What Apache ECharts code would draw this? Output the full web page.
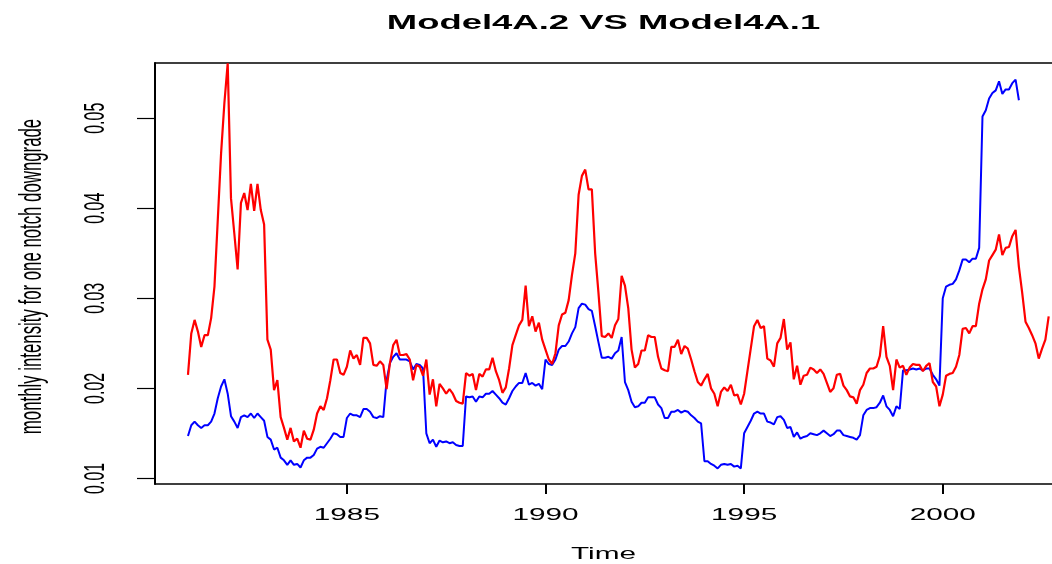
<!DOCTYPE html>
<html>
<head>
<meta charset="utf-8">
<title>Model4A.2 VS Model4A.1</title>
<script src="https://cdn.jsdelivr.net/npm/echarts@6/dist/echarts.min.js"></script>
<style>
  html, body { margin: 0; padding: 0; background: #ffffff; }
  #main { width: 1052px; height: 564px; }
</style>
</head>
<body>
<div id="main"></div>
<script>
// ---- data (monthly series starting January 1981) ----
const startYear = 1981;
const monthsPerYear = 12;

// blue line (Model4A.2), 1981-01 .. 2001-12
const model4A2 = [
  0.0147,0.0159,0.0163,0.0159,0.0156,0.0159,0.0159,0.0163,0.0172,0.0189,0.0202,0.0210,
  0.0194,0.0169,0.0163,0.0156,0.0168,0.0170,0.0168,0.0172,0.0167,0.0172,0.0168,0.0164,
  0.0146,0.0143,0.0132,0.0134,0.0123,0.0120,0.0115,0.0120,0.0115,0.0116,0.0112,0.0120,
  0.0123,0.0123,0.0126,0.0133,0.0135,0.0134,0.0139,0.0144,0.0150,0.0149,0.0146,0.0146,
  0.0167,0.0172,0.0170,0.0170,0.0168,0.0177,0.0177,0.0174,0.0168,0.0167,0.0169,0.0168,
  0.0209,0.0228,0.0235,0.0239,0.0232,0.0232,0.0232,0.0230,0.0221,0.0227,0.0226,0.0222,
  0.0150,0.0139,0.0143,0.0135,0.0142,0.0140,0.0141,0.0139,0.0140,0.0137,0.0136,0.0136,
  0.0191,0.0190,0.0191,0.0185,0.0191,0.0190,0.0194,0.0194,0.0197,0.0193,0.0189,0.0184,
  0.0182,0.0189,0.0197,0.0202,0.0206,0.0206,0.0217,0.0204,0.0206,0.0203,0.0205,0.0199,
  0.0232,0.0227,0.0226,0.0232,0.0243,0.0247,0.0247,0.0252,0.0261,0.0268,0.0289,0.0294,
  0.0293,0.0288,0.0286,0.0269,0.0251,0.0234,0.0234,0.0235,0.0233,0.0239,0.0242,0.0257,
  0.0207,0.0198,0.0185,0.0179,0.0180,0.0184,0.0184,0.0190,0.0190,0.0190,0.0182,0.0178,
  0.0167,0.0167,0.0174,0.0174,0.0176,0.0173,0.0175,0.0174,0.0170,0.0167,0.0163,0.0161,
  0.0119,0.0119,0.0116,0.0114,0.0111,0.0115,0.0116,0.0115,0.0116,0.0113,0.0114,0.0111,
  0.0150,0.0157,0.0164,0.0172,0.0174,0.0172,0.0172,0.0163,0.0162,0.0160,0.0168,0.0169,
  0.0165,0.0156,0.0157,0.0146,0.0151,0.0144,0.0146,0.0147,0.0150,0.0149,0.0148,0.0150,
  0.0153,0.0150,0.0147,0.0149,0.0153,0.0153,0.0148,0.0147,0.0146,0.0145,0.0143,0.0148,
  0.0170,0.0176,0.0178,0.0178,0.0179,0.0184,0.0192,0.0180,0.0176,0.0169,0.0180,0.0177,
  0.0220,0.0220,0.0221,0.0222,0.0221,0.0222,0.0220,0.0222,0.0222,0.0215,0.0210,0.0203,
  0.0300,0.0313,0.0315,0.0316,0.0321,0.0331,0.0343,0.0343,0.0340,0.0344,0.0344,0.0356,
  0.0502,0.0509,0.0522,0.0528,0.0531,0.0541,0.0527,0.0532,0.0532,0.0539,0.0543,0.0520
];

// red line (Model4A.1), 1981-01 .. 2002-09
const model4A1 = [
  0.0215,0.0261,0.0276,0.0263,0.0246,0.0259,0.0259,0.0278,0.0313,0.0387,0.0461,0.0517,
  0.0561,0.0411,0.0372,0.0332,0.0406,0.0417,0.0398,0.0427,0.0397,0.0427,0.0398,0.0382,
  0.0254,0.0243,0.0198,0.0209,0.0168,0.0156,0.0143,0.0156,0.0141,0.0144,0.0134,0.0153,
  0.0144,0.0143,0.0154,0.0172,0.0180,0.0176,0.0189,0.0209,0.0232,0.0232,0.0217,0.0215,
  0.0224,0.0242,0.0233,0.0237,0.0226,0.0256,0.0256,0.0250,0.0226,0.0225,0.0230,0.0226,
  0.0199,0.0228,0.0248,0.0254,0.0237,0.0237,0.0238,0.0232,0.0209,0.0226,0.0224,0.0214,
  0.0232,0.0193,0.0210,0.0180,0.0205,0.0200,0.0194,0.0199,0.0194,0.0186,0.0184,0.0183,
  0.0217,0.0214,0.0216,0.0198,0.0216,0.0213,0.0221,0.0221,0.0234,0.0219,0.0209,0.0195,
  0.0201,0.0222,0.0248,0.0259,0.0270,0.0276,0.0314,0.0269,0.0280,0.0263,0.0273,0.0254,
  0.0243,0.0232,0.0227,0.0239,0.0270,0.0282,0.0284,0.0298,0.0326,0.0350,0.0415,0.0436,
  0.0443,0.0421,0.0421,0.0350,0.0306,0.0258,0.0257,0.0261,0.0256,0.0270,0.0277,0.0325,
  0.0314,0.0289,0.0243,0.0223,0.0227,0.0242,0.0242,0.0259,0.0257,0.0257,0.0235,0.0222,
  0.0220,0.0219,0.0246,0.0246,0.0254,0.0238,0.0247,0.0244,0.0232,0.0219,0.0207,0.0203,
  0.0210,0.0216,0.0200,0.0194,0.0180,0.0196,0.0201,0.0197,0.0204,0.0192,0.0193,0.0182,
  0.0194,0.0219,0.0244,0.0269,0.0276,0.0267,0.0269,0.0233,0.0231,0.0224,0.0250,0.0256,
  0.0277,0.0243,0.0251,0.0210,0.0225,0.0204,0.0214,0.0215,0.0223,0.0221,0.0217,0.0221,
  0.0216,0.0206,0.0196,0.0200,0.0215,0.0216,0.0203,0.0198,0.0191,0.0190,0.0183,0.0198,
  0.0204,0.0217,0.0222,0.0222,0.0224,0.0236,0.0269,0.0235,0.0225,0.0198,0.0232,0.0223,
  0.0225,0.0215,0.0223,0.0227,0.0226,0.0226,0.0219,0.0225,0.0228,0.0207,0.0202,0.0180,
  0.0193,0.0214,0.0216,0.0217,0.0224,0.0237,0.0266,0.0267,0.0261,0.0269,0.0269,0.0294,
  0.0310,0.0321,0.0342,0.0348,0.0354,0.0371,0.0348,0.0356,0.0357,0.0369,0.0376,0.0335,
  0.0306,0.0274,0.0267,0.0259,0.0250,0.0233,0.0244,0.0254,0.0280
];

const xTicks = [1985, 1990, 1995, 2000];
const xTickLabels = ['1985', '1990', '1995', '2000'];
const yTicks = [0.01, 0.02, 0.03, 0.04, 0.05];
const yTickLabels = ['0.01', '0.02', '0.03', '0.04', '0.05'];
const titleText = 'Model4A.2 VS Model4A.1';
const xName = 'Time';
const yName = 'monthly intensity for one notch downgrade';

// axis ranges
const xMin = 1980.17, xMax = 2002.75;
const yMin = 0.00937, yMax = 0.05614;

// ---- build ----
const toSeries = arr => arr.map((v, i) => [startYear + i / monthsPerYear, v]);

const FONT = "'Liberation Sans', Arial, Helvetica, sans-serif";
const SX = 1.86; // horizontal stretch of the reference's text

const chart = echarts.init(document.getElementById('main'), null, { renderer: 'canvas' });

const axisLineStyle = { color: '#000000', width: 1.5 };

chart.setOption({
  animation: false,
  backgroundColor: '#ffffff',
  grid: { left: 155, top: 63, bottom: 80, right: -3, containLabel: false },
  xAxis: [
    {
      type: 'value', min: xMin, max: xMax, position: 'bottom',
      axisLine: { show: true, onZero: false, lineStyle: axisLineStyle },
      axisTick: { show: true, length: 10, inside: false, customValues: xTicks,
                  lineStyle: { color: '#000000', width: 2 } },
      axisLabel: { show: false },
      splitLine: { show: false }
    },
    {
      type: 'value', min: xMin, max: xMax, position: 'top',
      axisLine: { show: true, onZero: false, lineStyle: axisLineStyle },
      axisTick: { show: false }, axisLabel: { show: false }, splitLine: { show: false }
    }
  ],
  yAxis: {
    type: 'value', min: yMin, max: yMax,
    axisLine: { show: true, onZero: false, lineStyle: { color: '#000000', width: 2 } },
    axisTick: { show: true, length: 18, customValues: yTicks,
                lineStyle: { color: '#000000', width: 1.2 } },
    axisLabel: { show: false },
    splitLine: { show: false }
  },
  series: [
    {
      name: 'Model4A.2', type: 'line', xAxisIndex: 0, yAxisIndex: 0,
      data: toSeries(model4A2), showSymbol: false, symbol: 'none', silent: true,
      clip: true, lineStyle: { color: '#0000FF', width: 2 }, itemStyle: { color: '#0000FF' }
    },
    {
      name: 'Model4A.1', type: 'line', xAxisIndex: 0, yAxisIndex: 0,
      data: toSeries(model4A1), showSymbol: false, symbol: 'none', silent: true,
      clip: true, lineStyle: { color: '#FF0000', width: 2.2 }, itemStyle: { color: '#FF0000' }
    }
  ]
});

// text placed through the library's own scales
const px = v => chart.convertToPixel({ xAxisIndex: 0 }, v);
const py = v => chart.convertToPixel({ yAxisIndex: 0 }, v);
const plotLeft = px(xMin), plotRight = px(xMax);
const plotTop = py(yMax), plotBottom = py(yMin);
const plotCx = (plotLeft + plotRight) / 2;
const plotCy = (plotTop + plotBottom) / 2;

function txt(text, x, y, font, extra) {
  return Object.assign({
    type: 'text', x: x, y: y, silent: true,
    style: {
      text: text, font: font, fill: '#000000', textFill: '#000000',
      align: 'center', verticalAlign: 'middle',
      textAlign: 'center', textVerticalAlign: 'middle'
    }
  }, extra || {});
}

const graphics = [];
graphics.push(txt(titleText, plotCx, 24, 'bold 19.6px ' + FONT, { scaleX: SX }));
xTicks.forEach((t, i) => {
  graphics.push(txt(xTickLabels[i], px(t), plotBottom + 32, '16px ' + FONT, { scaleX: SX }));
});
graphics.push(txt(xName, plotCx, plotBottom + 71, '16px ' + FONT, { scaleX: SX }));
yTicks.forEach((t, i) => {
  graphics.push(txt(yTickLabels[i], plotLeft - 59, py(t), '16px ' + FONT,
    { rotation: Math.PI / 2, scaleY: SX }));
});
graphics.push(txt(yName, plotLeft - 123, plotCy + 3, '16.8px ' + FONT,
  { rotation: Math.PI / 2, scaleY: SX }));

chart.setOption({ graphic: graphics });
</script>
</body>
</html>
